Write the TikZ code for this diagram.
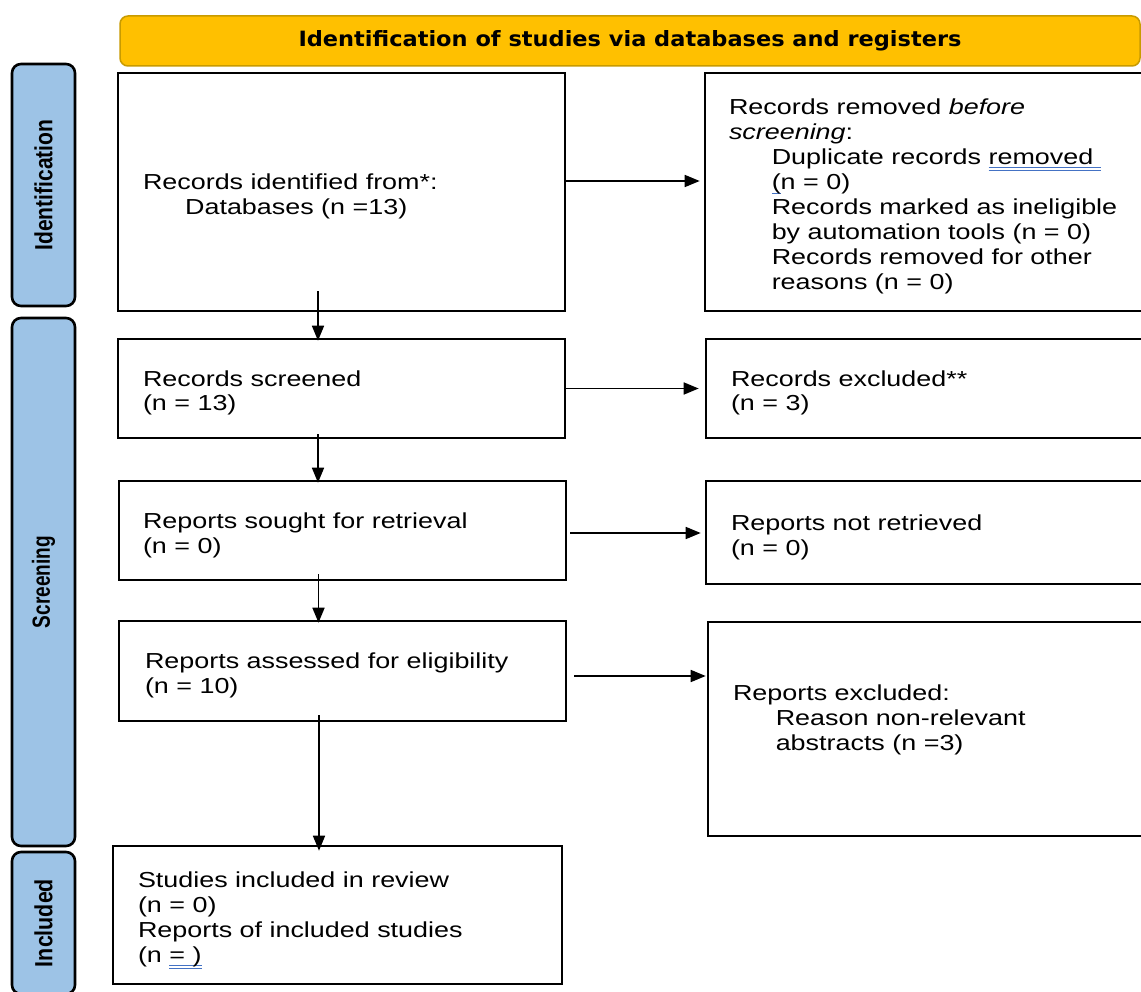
\documentclass[tikz,border=0pt]{standalone}
\usepackage{fontspec}
\setmainfont{Liberation Sans}
\newfontfamily\hdrfont{DejaVu Sans}
\usetikzlibrary{arrows.meta,calc}
\definecolor{hdrfill}{HTML}{FFC000}
\definecolor{hdrdraw}{HTML}{C89B00}
\definecolor{sidefill}{HTML}{9DC3E6}
\definecolor{ulblue}{HTML}{4472C4}
\newcommand\bodyfont{\fontsize{21.7pt}{25pt}\selectfont}
\newcommand\stretchtext[2][5pt]{\raisebox{-#1}[\height][\depth]{\scalebox{1.24}[1]{\bodyfont\begin{tabular}{@{}l@{}}#2\end{tabular}}}}
\newcommand\ind{\hspace*{34.5pt}}
\newcommand\dbl[1]{\sbox0{#1}\rlap{\color{ulblue}\rule[-3.5pt]{\wd0}{0.9pt}}\rlap{\color{ulblue}\rule[-6pt]{\wd0}{0.9pt}}\usebox0}
\newcommand\sgl[1]{\sbox0{#1}\rlap{\color{ulblue}\rule[-4.5pt]{\wd0}{0.9pt}}\usebox0}
\tikzset{
  box/.style={draw=black, line width=2.6pt, fill=white, inner xsep=25pt, inner ysep=0pt},
  arr/.style={line width=1.7pt, -{Triangle[length=15pt,width=12pt]}},
  side/.style={draw=black, line width=2.6pt, fill=sidefill, rounded corners=9pt, rotate=90, inner sep=0pt},
  hdr/.style={draw=hdrdraw, fill=hdrfill, line width=1.5pt, rounded corners=8pt, inner sep=0pt},
}
\begin{document}
\begin{tikzpicture}[x=1pt,y=-1pt]
\useasboundingbox (0,0) rectangle (1141,992);
\clip (0,0) rectangle (1141,992);
\fill[white] (0,0) rectangle (1141,992);

% header
\node[hdr, minimum width=1020pt, minimum height=50pt] (H) at (630,41)
  {\resizebox{663pt}{16pt}{\hdrfont\bfseries Identification of studies via databases and registers}};

% side bars
\node[side, minimum width=242pt, minimum height=63pt] (S1) at (43.5,185)
  {\resizebox{131pt}{18pt}{\bfseries Identification}};
\node[side, minimum width=528pt, minimum height=63pt] (S2) at (43.5,582)
  {\resizebox{92pt}{18pt}{\bfseries Screening}};
\node[side, minimum width=142pt, minimum height=63pt] (S3) at (43.5,923)
  {\resizebox{88pt}{18pt}{\bfseries Included}};

% left boxes
\node[box, minimum width=447pt, minimum height=238pt] (B1) at (341.5,192)
  {\makebox[397pt][l]{\stretchtext{Records identified from*:\\ \hspace*{34pt}Databases (n =13)}}};
\node[box, minimum width=447pt, minimum height=99pt] (B2) at (341.5,388.5)
  {\makebox[397pt][l]{\stretchtext{Records screened\\(n = 13)}}};
\node[box, minimum width=447pt, minimum height=99pt, inner xsep=24pt] (B3) at (342.5,530.5)
  {\makebox[399pt][l]{\stretchtext{Reports sought for retrieval\\(n = 0)}}};
\node[box, minimum width=447pt, minimum height=100pt, inner xsep=26pt] (B4) at (342.5,671)
  {\makebox[395pt][l]{\stretchtext{Reports assessed for eligibility\\(n = 10)}}};
\node[box, minimum width=449pt, minimum height=138pt] (B5) at (337.5,915)
  {\makebox[399pt][l]{\stretchtext{Studies included in review\\(n = 0)\\Reports of included studies\\(n \dbl{= )}}}};

% right boxes
\node[box, minimum width=465pt, minimum height=238pt, inner xsep=24pt] (R1) at (937.5,192)
  {\makebox[417pt][l]{\stretchtext{Records removed \textit{before}\\\textit{screening}:\\
   \ind Duplicate records \dbl{removed\ }\\
   \ind\sgl{(}n = 0)\\
   \ind Records marked as ineligible\\
   \ind by automation tools (n = 0)\\
   \ind Records removed for other\\
   \ind reasons (n = 0)}}};
\node[box, minimum width=464pt, minimum height=99pt] (R2) at (938,388.5)
  {\makebox[414pt][l]{\stretchtext{Records excluded**\\(n = 3)}}};
\node[box, minimum width=464pt, minimum height=103pt] (R3) at (938,532.5)
  {\makebox[414pt][l]{\stretchtext{Reports not retrieved\\(n = 0)}}};
\node[box, minimum width=462pt, minimum height=214pt] (R4) at (939,729)
  {\makebox[412pt][l]{\stretchtext[2pt]{Reports excluded:\\
   \ind Reason non-relevant\\
   \ind abstracts (n =3)\\[22pt]}}};

% horizontal arrows
\draw[arr, shorten >=4pt] ([yshift=11pt]B1.east) -- ([yshift=11pt]R1.west);
\draw[arr, shorten >=6pt] (B2.east) -- (R2.west);
\coordinate (a3) at ($(B3.east)+(3,2.5)$);
\draw[arr, shorten >=4pt] (a3) -- (a3 -| R3.west);
\coordinate (a4) at ($(B4.east)+(7,5)$);
\draw[arr, shorten >=1pt] (a4) -- (a4 -| R4.west);

% vertical arrows
\coordinate (v1) at ($(B1.south)+(-23.5,-21)$);
\coordinate (v2) at ($(B2.south)+(-23.5,-5)$);
\coordinate (v3) at ($(B3.south)+(-24,-7)$);
\coordinate (v4) at ($(B4.south)+(-23.5,-7)$);
\draw[arr, shorten >=-3pt] (v1) -- (v1 |- B2.north);
\draw[arr, shorten >=-3pt] (v2) -- (v2 |- B3.north);
\draw[arr, shorten >=-3pt] (v3) -- (v3 |- B4.north);
\draw[arr, shorten >=-6pt] (v4) -- (v4 |- B5.north);
\end{tikzpicture}
\end{document}
